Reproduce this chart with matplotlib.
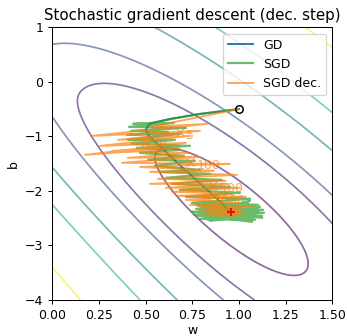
import numpy as np
import matplotlib
matplotlib.use("Agg")
import matplotlib.pyplot as plt

# loss surface around the optimum
w_true, b_true = 0.958, -2.383
shape_p = [0.759, -0.176]   # along the valley
shape_q = [-1.932, -0.713]  # across the valley
skew = [1.1, -0.22]         # lower-left side rises faster
levels = [0.245, 1.0, 1.72, 3.45, 5.5, 10.2]
level_c = [0.02, 0.08, 0.25, 0.45, 0.65, 1.0]

gd_w = [1.00, 0.79, 0.63, 0.52, 0.50, 0.52, 0.58, 0.64, 0.71, 0.78, 0.86, 0.92, 0.95]
gd_b = [-0.50, -0.59, -0.68, -0.77, -0.88, -1.00, -1.19, -1.39, -1.61, -1.83, -2.07, -2.27, -2.38]

sgd_w = [1.000, 0.791, 0.641, 0.534, 0.433, 0.652, 0.411, 0.716, 0.422, 0.620, 0.400, 0.684, 0.405, 0.657,
         0.422, 0.738, 0.454, 0.673, 0.470, 0.705, 0.513, 0.764, 0.550, 0.791, 0.577, 0.845, 0.609, 0.909,
         0.641, 0.952, 0.684, 1.005, 0.716, 1.059, 0.748, 1.102, 0.770, 1.129, 0.759, 1.123, 0.791, 1.086,
         0.818, 1.102, 0.780, 1.059, 0.845, 1.091, 0.802, 1.048, 0.872, 1.032, 0.748, 1.134, 0.791, 1.070,
         0.770, 1.113, 0.834, 1.059, 0.813, 1.123]
sgd_b = [-0.500, -0.588, -0.679, -0.753, -0.771, -0.753, -0.826, -0.845, -0.899, -0.918, -0.973, -0.954,
         -1.064, -1.064, -1.137, -1.174, -1.211, -1.247, -1.302, -1.357, -1.430, -1.449, -1.540, -1.614,
         -1.650, -1.687, -1.760, -1.797, -1.870, -1.925, -1.980, -2.035, -2.108, -2.145, -2.218, -2.255,
         -2.328, -2.346, -2.438, -2.456, -2.511, -2.529, -2.273, -2.383, -2.456, -2.328, -2.548, -2.456,
         -2.346, -2.237, -2.493, -2.420, -2.383, -2.401, -2.456, -2.566, -2.255, -2.292, -2.529, -2.181,
         -2.383, -2.493]

dec_w = [1.000, 0.523, 0.829, 0.213, 0.791, 0.352, 0.738, 0.255, 0.716, 0.175, 0.684, 0.320, 0.727, 0.405,
         0.791, 0.373, 0.952, 0.470, 0.866, 0.523, 0.989, 0.566, 0.930, 0.523, 0.941, 0.609, 1.005, 0.641,
         0.963, 0.673, 1.037, 0.716, 0.995, 0.738, 1.070, 0.780, 1.005, 0.823, 0.984, 0.791, 0.963, 0.845,
         1.027, 0.866, 0.984, 0.834, 0.952, 0.888, 1.005, 0.909]
dec_b = [-0.500, -0.826, -0.771, -0.991, -0.899, -1.064, -0.991, -1.174, -1.119, -1.339, -1.211, -1.266,
         -1.302, -1.394, -1.375, -1.485, -1.504, -1.559, -1.632, -1.650, -1.705, -1.778, -1.815, -1.870,
         -1.870, -1.943, -1.943, -2.016, -2.053, -2.090, -2.108, -2.163, -2.218, -2.255, -2.292, -2.365,
         -2.401, -2.438, -2.456, -2.273, -2.346, -2.420, -2.438, -2.383, -2.328, -2.292, -2.383, -2.456,
         -2.346, -2.401]

mark_w = [0.684, 0.497, 0.738, 0.861, 0.829]
mark_b = [-0.912, -1.114, -1.467, -1.888, -2.108]
mark_lab = ['5', '20', '100', '500', '1000']

w_start, b_start = 1.0, -0.5


def loss(w, b):
    dw, db = w - w_true, b - b_true
    p = shape_p[0] * dw + shape_p[1] * db
    q = shape_q[0] * dw + shape_q[1] * db
    f = np.maximum(1.0, skew[0] + skew[1] * p)
    q = np.where(q > 0, f * q, q)
    return p**2 + q**2


fig = plt.figure(figsize=(347 / 90, 336 / 90), dpi=90)
ax = fig.add_axes([0.1507, 0.1071, 0.807, 0.8117])
W, B = np.meshgrid(np.linspace(0, 1.5, 300), np.linspace(-4, 1, 300))
ax.contour(W, B, loss(W, B), levels=levels, colors=plt.cm.viridis(level_c),
           alpha=0.6, linewidths=1.4)

ax.plot(gd_w, gd_b, color='#1f77b4', label='GD')
ax.plot(sgd_w, sgd_b, color='#2ca02c', alpha=0.7, lw=1.8, label='SGD')
ax.plot(dec_w, dec_b, color='#ff7f0e', alpha=0.7, label='SGD dec.')
ax.plot(mark_w, mark_b, 'x', color='#ff7f0e', alpha=0.7, ms=6)
for w, b, t in zip(mark_w, mark_b, mark_lab):
    ax.annotate(t, (w, b), xytext=(5, -3), textcoords='offset points',
                color='#ff7f0e', alpha=0.7, fontsize=10, va='center')
ax.plot(w_start, b_start, 'o', mfc='none', mec='k', ms=6, mew=1.2)
ax.plot(w_true, b_true, '+', color='r', ms=7, mew=1.5)

ax.set_xlim(0, 1.5)
ax.set_ylim(-4, 1)
ax.set_xlabel('w', labelpad=2)
ax.set_ylabel('b')
ax.set_title('Stochastic gradient descent (dec. step)')
ax.legend(loc='upper right')
fig.savefig("out.png")
